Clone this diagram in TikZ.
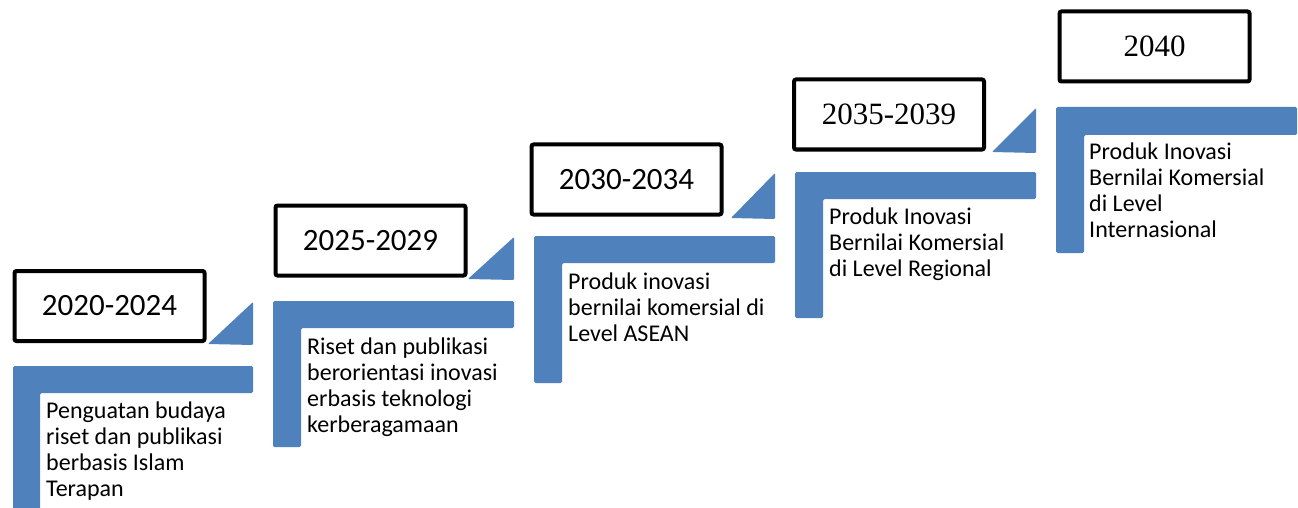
\documentclass[tikz,border=0pt]{standalone}
\usepackage{fontspec}
\setmainfont{Carlito}
\newfontfamily\yearserif{Liberation Serif}
\definecolor{stepblue}{HTML}{4F81BD}
\tikzset{
  lbar/.style={fill=stepblue, draw=none, rounded corners=1.5pt},
  wedge/.style={fill=stepblue, draw=none, rounded corners=1pt},
  yearbox/.style={draw=black, line width=4pt, fill=white, rounded corners=2pt, minimum width=190pt, minimum height=70pt, inner sep=0pt},
  yearsans/.style={font=\fontsize{31}{36}\selectfont},
  yearrom/.style={font=\yearserif\fontsize{31}{36}\selectfont},
  desc/.style={anchor=base west, align=left, inner sep=0pt, font=\fontsize{24}{26}\selectfont}
}
\begin{document}
\begin{tikzpicture}[x=1pt,y=-1pt]
\useasboundingbox (0,0) rectangle (1298,508);
% ---------- step 1 ----------
\path[lbar] (13,366) -- (253,366) -- (253,393) -- (40,393) -- (40,512) -- (13,512) -- cycle;
\path[wedge] (208,344) -- (253,302) -- (253,345) -- cycle;
\node[yearbox, yearsans] (y1) at (109.5,306) {2020-2024};
% anchor: baseline of last line
\node[desc] (d1) at (46,496) {Penguatan budaya\\riset dan publikasi\\berbasis Islam\\Terapan};
% ---------- step 2 ----------
\path[lbar] (273,301) -- (514,301) -- (514,328) -- (301,328) -- (301,447) -- (273,447) -- cycle;
\path[wedge] (468,279) -- (514,237) -- (514,280) -- cycle;
\node[yearbox, yearsans] (y2) at (370.5,240.5) {2025-2029};
\node[desc] (d2) at (307,432) {Riset dan publikasi\\berorientasi inovasi\\erbasis teknologi\\kerberagamaan};
% ---------- step 3 ----------
\path[lbar] (534,236) -- (775,236) -- (775,263) -- (562,263) -- (562,383) -- (534,383) -- cycle;
\path[wedge] (731,218) -- (775,173) -- (775,219) -- cycle;
\node[yearbox, yearsans] (y3) at (626.5,179.5) {2030-2034};
\node[desc] (d3) at (568,341) {Produk inovasi\\bernilai komersial di\\Level ASEAN};
% ---------- step 4 ----------
\path[lbar] (795,172) -- (1036,172) -- (1036,199) -- (823,199) -- (823,318) -- (795,318) -- cycle;
\path[wedge] (992,152) -- (1036,108) -- (1036,153) -- cycle;
\node[yearbox, yearrom] (y4) at (889,114.5) {2035-2039};
\node[desc] (d4) at (829,276) {Produk Inovasi\\Bernilai Komersial\\di Level Regional};
% ---------- step 5 ----------
\path[lbar] (1056,107) -- (1297,107) -- (1297,135) -- (1084,135) -- (1084,253) -- (1056,253) -- cycle;
\node[yearbox, yearrom] (y5) at (1154.5,46.5) {2040};
\node[desc] (d5) at (1089,237) {Produk Inovasi\\Bernilai Komersial\\di Level\\Internasional};
\end{tikzpicture}
\end{document}
